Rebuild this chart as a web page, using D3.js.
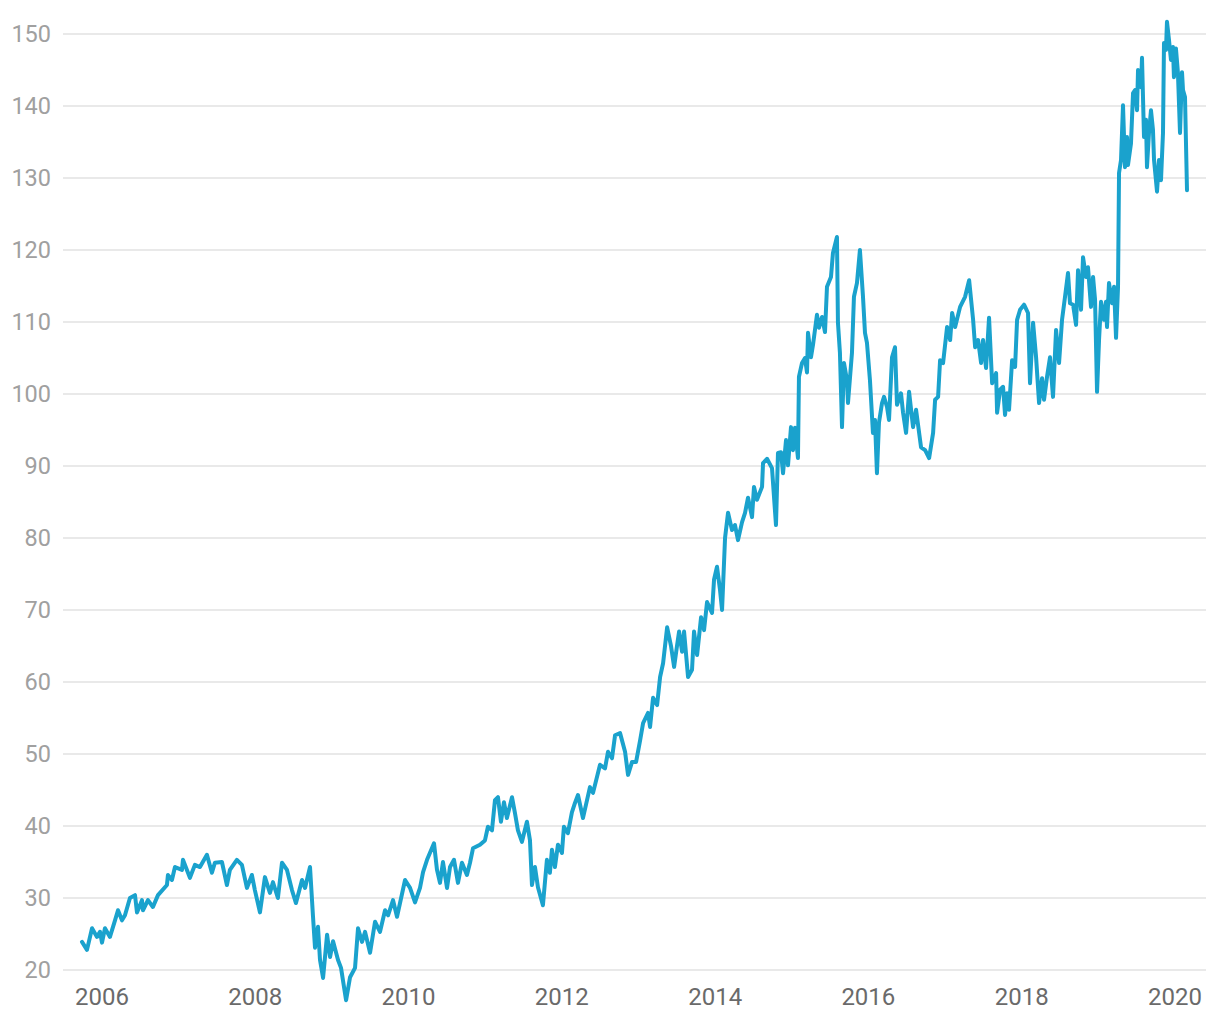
<!DOCTYPE html>
<html>
<head>
<meta charset="utf-8">
<script src="https://cdn.jsdelivr.net/npm/d3@7"></script>
<style>
  html, body { margin: 0; padding: 0; background: #ffffff; }
  svg { display: block; font-family: Roboto, "Noto Sans", sans-serif; }
</style>
</head>
<body>
<svg id="chart" width="1220" height="1020"></svg>
<script>
// Decimal year of each observation
const times = [
  2005.739,2005.804,2005.870,2005.935,2005.974,2006.000,2006.039,2006.104,2006.170,2006.209,
  2006.261,2006.300,2006.365,2006.431,2006.457,2006.522,2006.535,2006.600,2006.665,2006.731,
  2006.848,2006.861,2006.913,2006.953,2007.044,2007.057,2007.148,2007.213,2007.279,2007.370,
  2007.435,2007.474,2007.566,2007.631,2007.670,2007.761,2007.827,2007.892,2007.957,2007.996,
  2008.062,2008.127,2008.192,2008.231,2008.296,2008.349,2008.414,2008.479,2008.531,2008.610,
  2008.649,2008.714,2008.753,2008.779,2008.818,2008.844,2008.884,2008.936,2008.975,2009.014,
  2009.079,2009.118,2009.184,2009.236,2009.301,2009.340,2009.392,2009.432,2009.497,2009.562,
  2009.627,2009.693,2009.732,2009.797,2009.849,2009.954,2010.019,2010.084,2010.149,2010.189,
  2010.241,2010.332,2010.371,2010.410,2010.449,2010.502,2010.541,2010.593,2010.645,2010.697,
  2010.762,2010.802,2010.841,2010.932,2010.997,2011.036,2011.089,2011.128,2011.167,2011.206,
  2011.245,2011.284,2011.350,2011.389,2011.428,2011.480,2011.545,2011.585,2011.611,2011.650,
  2011.689,2011.754,2011.806,2011.845,2011.872,2011.911,2011.950,2012.002,2012.028,2012.080,
  2012.132,2012.172,2012.211,2012.276,2012.367,2012.407,2012.498,2012.563,2012.602,2012.654,
  2012.694,2012.759,2012.824,2012.863,2012.915,2012.968,2013.020,2013.059,2013.124,2013.150,
  2013.189,2013.242,2013.281,2013.320,2013.373,2013.425,2013.464,2013.503,2013.529,2013.568,
  2013.594,2013.646,2013.698,2013.724,2013.764,2013.816,2013.855,2013.894,2013.959,2013.985,
  2014.024,2014.063,2014.090,2014.129,2014.168,2014.220,2014.259,2014.298,2014.351,2014.390,
  2014.429,2014.481,2014.507,2014.546,2014.612,2014.625,2014.677,2014.742,2014.794,2014.820,
  2014.860,2014.886,2014.925,2014.951,2014.990,2015.016,2015.042,2015.081,2015.094,2015.134,
  2015.173,2015.199,2015.212,2015.251,2015.277,2015.329,2015.356,2015.395,2015.434,2015.460,
  2015.512,2015.538,2015.590,2015.603,2015.629,2015.656,2015.682,2015.721,2015.734,2015.786,
  2015.812,2015.851,2015.890,2015.930,2015.956,2015.982,2016.021,2016.060,2016.086,2016.112,
  2016.138,2016.178,2016.204,2016.243,2016.269,2016.308,2016.347,2016.373,2016.425,2016.452,
  2016.491,2016.530,2016.582,2016.621,2016.686,2016.739,2016.791,2016.843,2016.869,2016.908,
  2016.934,2016.973,2017.025,2017.065,2017.091,2017.130,2017.195,2017.260,2017.313,2017.365,
  2017.391,2017.430,2017.469,2017.495,2017.534,2017.573,2017.613,2017.665,2017.678,2017.717,
  2017.756,2017.782,2017.808,2017.834,2017.874,2017.913,2017.939,2017.978,2018.030,2018.082,
  2018.108,2018.148,2018.187,2018.226,2018.265,2018.291,2018.330,2018.369,2018.408,2018.448,
  2018.487,2018.526,2018.565,2018.604,2018.630,2018.670,2018.709,2018.735,2018.774,2018.800,
  2018.839,2018.865,2018.904,2018.931,2018.957,2018.983,2019.009,2019.035,2019.074,2019.100,
  2019.113,2019.139,2019.179,2019.205,2019.231,2019.257,2019.270,2019.296,2019.322,2019.348,
  2019.374,2019.387,2019.426,2019.453,2019.479,2019.505,2019.518,2019.557,2019.570,2019.596,
  2019.622,2019.635,2019.661,2019.687,2019.713,2019.727,2019.766,2019.792,2019.818,2019.844,
  2019.857,2019.883,2019.896,2019.922,2019.948,2019.974,2019.987,2020.013,2020.039,2020.066,
  2020.092,2020.105,2020.131,2020.157
];
// Price at each observation
const prices = [
  23.9,22.8,25.8,24.6,25.3,23.8,25.8,24.6,26.9,28.3,
  26.9,27.6,30.0,30.4,28.0,29.7,28.3,29.7,28.75,30.4,
  31.8,33.2,32.5,34.3,33.9,35.3,32.8,34.6,34.3,36.0,
  33.5,34.9,35.0,31.8,33.9,35.3,34.6,31.4,33.2,31.1,
  28.0,32.9,30.7,32.2,30.0,34.9,33.9,31.1,29.3,32.5,
  31.4,34.3,27.4,23.1,26.0,21.4,18.9,24.9,21.8,24.0,
  21.4,20.3,15.8,19.0,20.3,25.8,23.9,25.3,22.4,26.7,
  25.3,28.3,27.6,29.7,27.4,32.5,31.4,29.4,31.4,33.6,
  35.3,37.6,33.9,32.1,35.0,31.4,34.3,35.3,32.1,34.9,
  33.2,34.9,36.9,37.4,38.0,39.9,39.4,43.6,44.0,40.6,
  43.3,41.1,44.0,41.8,39.4,37.8,40.6,38.0,31.8,34.3,
  31.5,29.0,35.3,33.5,36.7,34.3,37.4,36.25,39.9,39.0,
  41.9,43.2,44.3,41.1,45.4,44.6,48.5,48.0,50.3,49.4,
  52.6,52.9,50.3,47.1,48.9,48.9,51.9,54.3,55.7,53.75,
  57.8,56.8,60.7,62.6,67.6,64.9,62.1,65.1,67.0,64.2,
  67.0,60.7,61.7,67.0,63.75,69.0,67.2,71.1,69.6,74.2,
  76.0,72.8,70.0,80.0,83.5,81.1,81.8,79.7,82.2,83.5,
  85.6,82.9,87.1,85.3,87.1,90.4,91.0,89.7,81.8,91.8,
  91.9,89.0,93.6,90.1,95.4,92.2,95.3,91.1,102.4,104.3,
  105.0,103.0,108.5,105.1,106.8,111.0,109.2,110.7,108.6,114.9,
  116.25,119.6,121.8,109.9,105.7,95.4,104.3,101.9,98.75,105.7,
  113.5,115.4,120.0,113.5,108.5,107.1,101.9,94.6,96.4,89.0,
  96.0,98.75,99.6,98.2,96.4,105.1,106.5,98.5,100.1,97.4,
  94.6,100.3,95.4,97.8,92.6,92.2,91.1,94.6,99.2,99.6,
  104.7,104.3,109.3,107.5,111.25,109.3,112.1,113.5,115.8,110.3,
  106.5,107.5,104.3,107.5,103.6,110.6,101.5,102.9,97.4,100.6,
  101.0,97.1,100.1,97.8,104.7,103.75,110.3,111.7,112.4,111.25,
  101.5,109.9,105.1,98.75,102.2,99.2,102.4,105.1,99.6,108.9,
  104.3,110.3,113.5,116.8,112.6,112.4,109.6,117.2,111.7,119.0,
  116.25,117.6,112.1,116.25,113.1,100.3,107.5,112.8,110.3,112.8,
  109.3,115.4,112.6,114.9,107.8,114.9,130.7,132.5,140.1,131.5,
  135.7,131.8,134.8,141.8,142.2,139.4,145.0,142.6,146.7,135.7,
  138.1,131.5,136.25,139.4,136.7,132.5,128.1,132.5,129.7,136.25,
  148.75,147.8,151.7,149.2,146.4,148.2,144.0,148.0,144.6,136.25,
  144.7,142.2,141.25,128.3
];
const yTicks = [20, 30, 40, 50, 60, 70, 80, 90, 100, 110, 120, 130, 140, 150];
const xTickYears = [2006, 2008, 2010, 2012, 2014, 2016, 2018, 2020];

function toDate(t) {
  const y = Math.floor(t);
  const s = Date.UTC(y, 0, 1), e = Date.UTC(y + 1, 0, 1);
  return new Date(s + (t - y) * (e - s));
}
const data = times.map((t, i) => ({ date: toDate(t), value: prices[i] }));

const svg = d3.select("#chart");
const x = d3.scaleUtc()
  .domain(d3.extent(data, d => d.date))
  .range([82, 1187]);
const y = d3.scaleLinear().domain([20, 150]).range([970, 34]);

// Grid lines + y labels
const yAxis = svg.append("g");
yAxis.selectAll("line").data(yTicks).join("line")
  .attr("x1", 63).attr("x2", 1206)
  .attr("y1", d => y(d)).attr("y2", d => y(d))
  .attr("stroke", "#e2e2e2").attr("stroke-width", 1.5);
yAxis.selectAll("text").data(yTicks).join("text")
  .attr("x", 51).attr("y", d => y(d)).attr("dy", "0.36em")
  .attr("text-anchor", "end")
  .attr("font-size", 23.5).attr("fill", "#a0a0a0")
  .text(d => d);

// x labels
const xAxis = svg.append("g");
xAxis.selectAll("text").data(xTickYears).join("text")
  .attr("x", d => x(new Date(Date.UTC(d, 0, 1))))
  .attr("y", 1004.5)
  .attr("text-anchor", "middle")
  .attr("font-size", 24).attr("fill", "#6a6a6a")
  .text(d => d);

// line
const line = d3.line().x(d => x(d.date)).y(d => y(d.value));
svg.append("path").datum(data)
  .attr("d", line)
  .attr("fill", "none")
  .attr("stroke", "#1aa2cd")
  .attr("stroke-width", 4)
  .attr("stroke-linejoin", "round")
  .attr("stroke-linecap", "round");
</script>
</body>
</html>
